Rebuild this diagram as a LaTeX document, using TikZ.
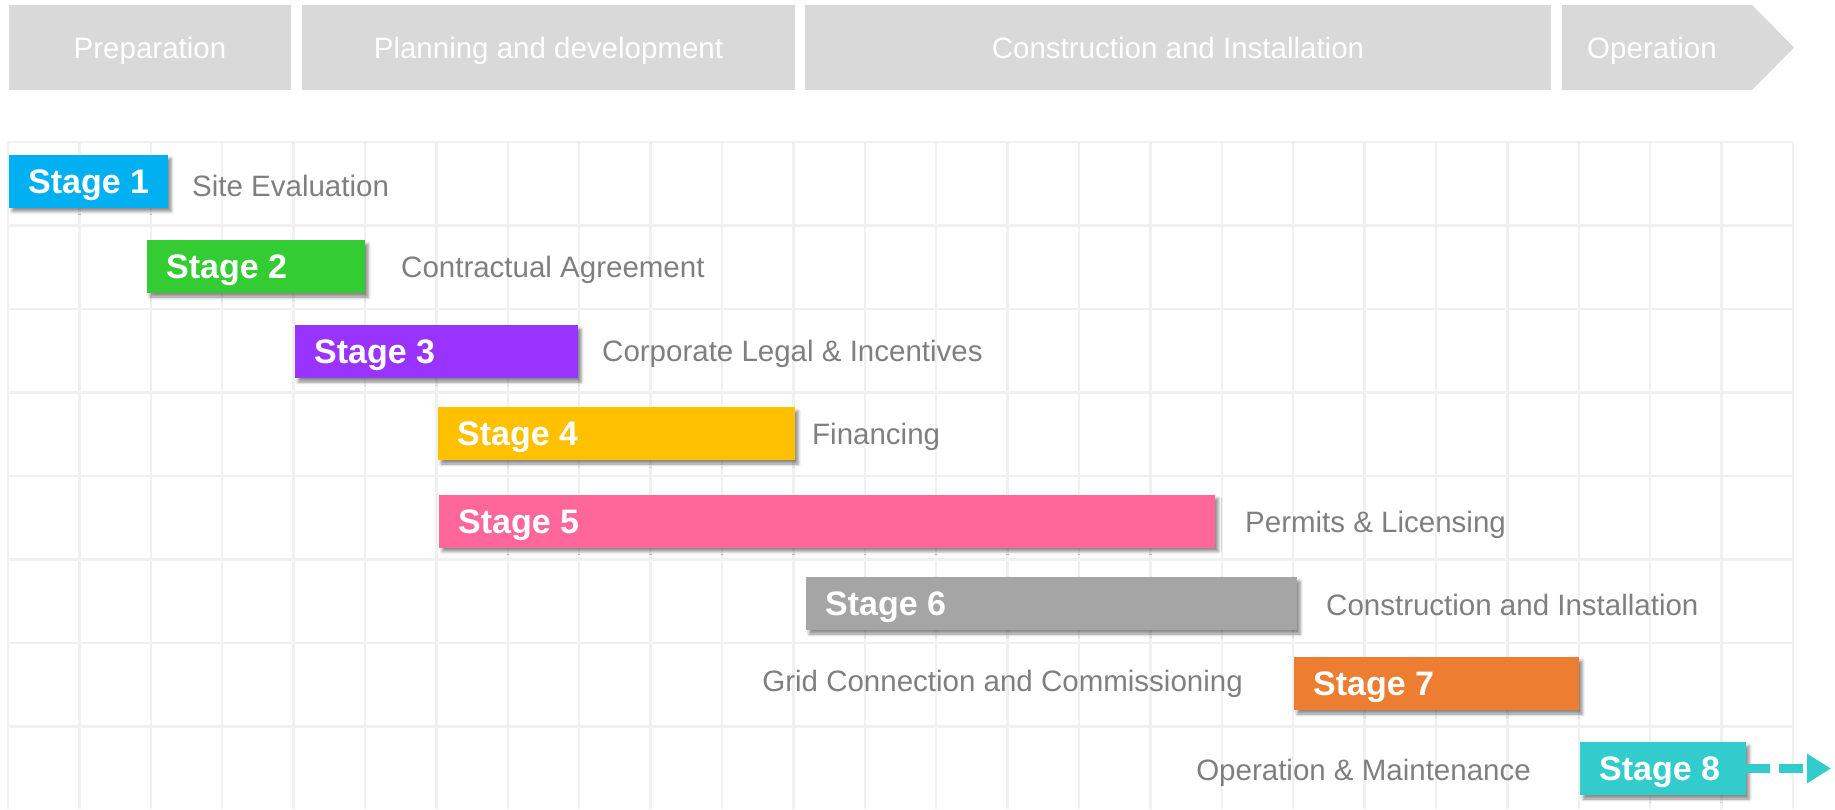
\documentclass[tikz,border=0pt]{standalone}
\usepackage{fontspec}
\setmainfont{Liberation Sans}
\usetikzlibrary{arrows.meta,shadows.blur}

\definecolor{phasegrey}{HTML}{D9D9D9}
\definecolor{gridgrey}{HTML}{F0F0F0}
\definecolor{taskgrey}{HTML}{7F7F7F}
\definecolor{stageone}{HTML}{00B0F0}
\definecolor{stagetwo}{HTML}{33CC33}
\definecolor{stagethree}{HTML}{9933FF}
\definecolor{stagefour}{HTML}{FFC000}
\definecolor{stagefive}{HTML}{FF6699}
\definecolor{stagesix}{HTML}{A5A5A5}
\definecolor{stageseven}{HTML}{ED7D31}
\definecolor{stageeight}{HTML}{33CCCC}

\begin{document}
\begin{tikzpicture}[x=1pt, y=-1pt,
        phase/.style={fill=phasegrey, text=white, minimum height=85pt, inner sep=0pt,
            text height=21pt, text depth=0pt, font=\fontsize{29.5}{32}\selectfont},
        bar/.style={anchor=west, minimum height=53pt, inner sep=0pt,
            blur shadow={shadow xshift=3pt, shadow yshift=-4pt, shadow blur radius=3pt, shadow opacity=45}},
        stagetext/.style={anchor=west, text=white, inner sep=0pt, text height=24.3pt, text depth=0pt,
            font=\bfseries\fontsize{34}{36}\selectfont},
        task/.style={anchor=west, text=taskgrey, inner sep=0pt, text height=21pt, text depth=0pt,
            font=\fontsize{29.5}{32}\selectfont},
        gridline/.style={gridgrey, line width=2.5pt},
        flow/.style={stageeight, line width=9pt, dash pattern=on 24pt off 9pt,
            -{Triangle[length=24pt, width=28pt]}}
    ]
    \useasboundingbox (0,0) rectangle (1835,809);

    \foreach \i in {0,...,25}
        \draw[gridline] (8+\i*71.4,142) -- (8+\i*71.4,809);
    \foreach \j in {0,...,7}
        \draw[gridline] (8,142+\j*83.5) -- (1793,142+\j*83.5);

    \node[phase, minimum width=282pt] (prep) at (150,47.5) {Preparation};
    \node[phase, minimum width=493pt] (plan) at (548.5,47.5) {Planning and development};
    \node[phase, minimum width=746pt] (build) at (1178,47.5) {Construction and Installation};
    \fill[phasegrey] (1562,5) -- (1752,5) -- (1794,47.5) -- (1752,90) -- (1562,90) -- cycle;
    \node[phase, fill=none] (oper) at (1652,47.5) {Operation};

    \node[bar, fill=stageone, minimum width=159pt] (s1) at (9,181) {};
    \node[bar, fill=stagetwo, minimum width=218pt] (s2) at (147,266.5) {};
    \node[bar, fill=stagethree, minimum width=283pt] (s3) at (295,351.5) {};
    \node[bar, fill=stagefour, minimum width=357pt] (s4) at (438,433.5) {};
    \node[bar, fill=stagefive, minimum width=776pt] (s5) at (439,521) {};
    \node[bar, fill=stagesix, minimum width=491pt] (s6) at (806,603.5) {};
    \node[bar, fill=stageseven, minimum width=285pt] (s7) at (1294,683.5) {};
    \node[bar, fill=stageeight, minimum width=166pt] (s8) at (1580,768.5) {};

    \node[stagetext] (t1) at ([xshift=19pt]s1.west) {Stage 1};
    \node[stagetext] (t2) at ([xshift=19pt]s2.west) {Stage 2};
    \node[stagetext] (t3) at ([xshift=19pt]s3.west) {Stage 3};
    \node[stagetext] (t4) at ([xshift=19pt]s4.west) {Stage 4};
    \node[stagetext] (t5) at ([xshift=19pt]s5.west) {Stage 5};
    \node[stagetext] (t6) at ([xshift=19pt]s6.west) {Stage 6};
    \node[stagetext] (t7) at ([xshift=19pt]s7.west) {Stage 7};
    \node[stagetext] (t8) at ([xshift=19pt]s8.west) {Stage 8};

    \node[task] (l1) at (192,186) {Site Evaluation};
    \node[task] (l2) at (401,267) {Contractual Agreement};
    \node[task] (l3) at (602,351) {Corporate Legal \& Incentives};
    \node[task] (l4) at (812,434) {Financing};
    \node[task] (l5) at (1245,522) {Permits \& Licensing};
    \node[task] (l6) at (1326,605) {Construction and Installation};
    \node[task, anchor=east] (l7) at (1243,681) {Grid Connection and Commissioning};
    \node[task, anchor=east] (l8) at (1531,770) {Operation \& Maintenance};

    \coordinate (tip) at (1831,768.5);
    \draw[flow] (s8.east) -- (tip);
\end{tikzpicture}
\end{document}
